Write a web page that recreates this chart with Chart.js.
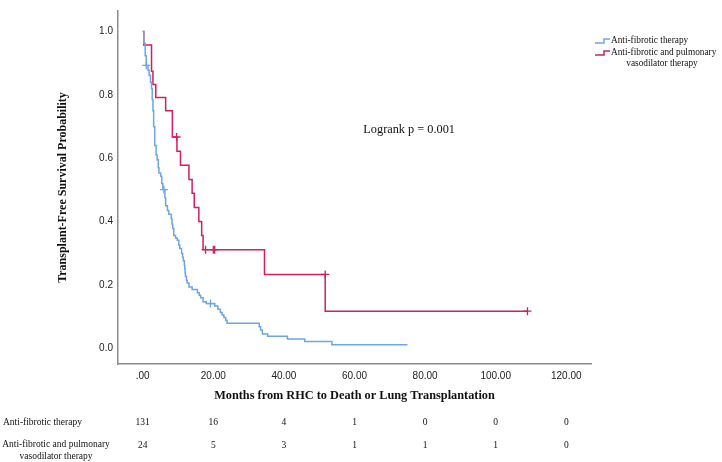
<!DOCTYPE html>
<html>
<head>
<meta charset="utf-8">
<script src="https://cdn.jsdelivr.net/npm/chart.js@4.4.0/dist/chart.umd.min.js"></script>
<style>
  body { margin: 0; background: #fff; }
</style>
</head>
<body>
<canvas id="km" width="722" height="462"></canvas>
<script>
//------------------------------------------DATA--------------------------------------------------

var groupNames = ['Anti-fibrotic therapy', 'Anti-fibrotic and pulmonary vasodilator therapy'];

// anti-fibrotic only (n = 131)
var blueTimes = [0, 0.3, 0.7, 1.0, 1.5, 1.8, 2.2, 2.5, 2.7, 2.9, 3.1, 3.4, 3.8, 4.1, 4.4, 4.6, 5.1, 5.4, 5.7, 6.3,
                 6.5, 7.0, 7.4, 8.1, 8.3, 8.5, 8.8, 9.3, 9.8, 10.2, 10.5, 11.0, 11.3, 11.5, 11.8, 11.9, 12.0, 12.1, 12.4, 12.6,
                 13.1, 14.0, 15.5, 16.0, 16.4, 17.1, 18.0, 20.4, 21.3, 22.0, 22.5, 23.0, 23.5, 23.9, 33.0, 33.4, 33.9, 35.4,
                 41.0, 45.9, 53.6, 75.0];
var blueSurv = [1, 0.962, 0.924, 0.893, 0.878, 0.862, 0.840, 0.820, 0.785, 0.750, 0.700, 0.640, 0.610, 0.595, 0.570, 0.553, 0.543, 0.520, 0.501, 0.475,
                0.450, 0.435, 0.423, 0.408, 0.392, 0.378, 0.356, 0.348, 0.341, 0.326, 0.315, 0.299, 0.287, 0.276, 0.262, 0.252, 0.238, 0.227, 0.214, 0.206,
                0.193, 0.185, 0.175, 0.167, 0.159, 0.147, 0.141, 0.133, 0.123, 0.113, 0.105, 0.097, 0.088, 0.079, 0.068, 0.057, 0.045, 0.038,
                0.029, 0.021, 0.011, 0.011];
var blueCensorTimes = [1.0, 6.0, 19.2];
var blueCensorSurv = [0.893, 0.501, 0.141];

// anti-fibrotic + pulmonary vasodilator (n = 24)
var redTimes = [0, 0.3, 2.5, 2.9, 3.7, 6.5, 8.4, 9.7, 10.7, 13.1, 14.0, 14.6, 15.9, 16.7, 17.1, 34.5, 51.7, 109.0];
var redSurv = [1, 0.958, 0.875, 0.833, 0.792, 0.750, 0.667, 0.622, 0.578, 0.533, 0.489, 0.444, 0.400, 0.356, 0.311, 0.233, 0.117, 0.117];
var redCensorTimes = [9.6, 17.8, 20.0, 20.4, 51.7, 109.0];
var redCensorSurv = [0.667, 0.311, 0.311, 0.311, 0.233, 0.117];

var xTicks = [0, 20, 40, 60, 80, 100, 120];
var yTicks = [0, 0.2, 0.4, 0.6, 0.8, 1.0];
var riskBlue = [131, 16, 4, 1, 0, 0, 0];
var riskRed = [24, 5, 3, 1, 1, 1, 0];

var logrankText = 'Logrank p = 0.001';

//------------------------------------------CHART-------------------------------------------------

var blueColor = '#6ea6e4';
var redColor = '#d3205a';
var serif = '"Liberation Serif", "Times New Roman", serif';
var sans = '"Liberation Sans", Arial, sans-serif';

function pts(xs, ys) {
  return xs.map(function (t, i) { return { x: t, y: ys[i] }; });
}

function stepIcon(ctx, x, y, color) {
  ctx.save();
  ctx.strokeStyle = color;
  ctx.lineWidth = 1.5;
  ctx.beginPath();
  ctx.moveTo(x, y + 2);
  ctx.lineTo(x + 9, y + 2);
  ctx.lineTo(x + 9, y - 2);
  ctx.lineTo(x + 15, y - 2);
  ctx.stroke();
  ctx.restore();
}

var extras = {
  id: 'extras',
  afterDraw: function (chart) {
    var ctx = chart.ctx;
    var xs = chart.scales.x, ys = chart.scales.y;
    var area = chart.chartArea;
    ctx.save();
    ctx.fillStyle = '#111';
    ctx.textBaseline = 'middle';

    // logrank note
    ctx.font = '12.3px ' + serif;
    ctx.textAlign = 'left';
    ctx.fillText(logrankText, xs.getPixelForValue(62.5), ys.getPixelForValue(0.69));

    // legend
    var lx = area.right + 4;
    ctx.font = '9.3px ' + serif;
    stepIcon(ctx, lx, 41, blueColor);
    ctx.fillText(groupNames[0], lx + 16, 41);
    stepIcon(ctx, lx, 53, redColor);
    ctx.fillText('Anti-fibrotic and pulmonary', lx + 16, 53);
    ctx.textAlign = 'center';
    ctx.fillText('vasodilator therapy', lx + 67, 64);

    // number at risk table
    ctx.font = '9.5px ' + serif;
    ctx.textAlign = 'left';
    ctx.fillText(groupNames[0], 3, 422);
    ctx.textAlign = 'center';
    ctx.fillText('Anti-fibrotic and pulmonary', 56, 444);
    ctx.fillText('vasodilator therapy', 56, 456);
    xTicks.forEach(function (t, i) {
      var px = xs.getPixelForValue(t);
      ctx.fillText(String(riskBlue[i]), px, 422);
      ctx.fillText(String(riskRed[i]), px, 445);
    });
    ctx.restore();
  }
};

new Chart(document.getElementById('km'), {
  type: 'scatter',
  data: {
    datasets: [
      {
        label: groupNames[0],
        data: pts(blueTimes, blueSurv),
        showLine: true,
        stepped: 'before',
        borderColor: blueColor,
        borderWidth: 1.5,
        pointRadius: 0
      },
      {
        label: groupNames[1],
        data: pts(redTimes, redSurv),
        showLine: true,
        stepped: 'before',
        borderColor: redColor,
        borderWidth: 1.5,
        pointRadius: 0
      },
      {
        label: 'censored 1',
        data: pts(blueCensorTimes, blueCensorSurv),
        pointStyle: 'cross',
        pointRadius: 4,
        borderColor: blueColor,
        borderWidth: 1.3
      },
      {
        label: 'censored 2',
        data: pts(redCensorTimes, redCensorSurv),
        pointStyle: 'cross',
        pointRadius: 4,
        borderColor: redColor,
        borderWidth: 1.3
      }
    ]
  },
  options: {
    responsive: false,
    animation: false,
    events: [],
    layout: { padding: { left: 50, right: 131, top: 7, bottom: 48 } },
    plugins: {
      legend: { display: false },
      tooltip: { enabled: false }
    },
    scales: {
      x: {
        type: 'linear',
        min: -7,
        max: 127,
        grid: { display: false, drawTicks: false },
        border: { display: true, color: '#8c8c8c', width: 1.5 },
        afterBuildTicks: function (scale) {
          scale.ticks = xTicks.map(function (v) { return { value: v }; });
        },
        afterFit: function (scale) { scale.height = 50; },
        ticks: {
          padding: 6,
          color: '#222',
          font: { family: sans, size: 10 },
          callback: function (v) { return v === 0 ? '.00' : v.toFixed(2); }
        },
        title: {
          display: true,
          text: 'Months from RHC to Death or Lung Transplantation',
          color: '#111',
          font: { family: serif, size: 12.3, weight: 'bold' },
          padding: { top: 0, bottom: 11 }
        }
      },
      y: {
        type: 'linear',
        min: -0.05,
        max: 1.065,
        grid: { display: false, drawTicks: false },
        border: { display: true, color: '#8c8c8c', width: 1.5 },
        afterBuildTicks: function (scale) {
          scale.ticks = yTicks.map(function (v) { return { value: v }; });
        },
        afterFit: function (scale) { scale.width = 68; },
        ticks: {
          padding: 5,
          color: '#222',
          font: { family: sans, size: 10 },
          callback: function (v) { return v.toFixed(1); }
        },
        title: {
          display: true,
          text: 'Transplant-Free Survival Probability',
          color: '#111',
          font: { family: serif, size: 12, weight: 'bold' },
          padding: { top: 6, bottom: 0 }
        }
      }
    }
  },
  plugins: [extras]
});
</script>
</body>
</html>
